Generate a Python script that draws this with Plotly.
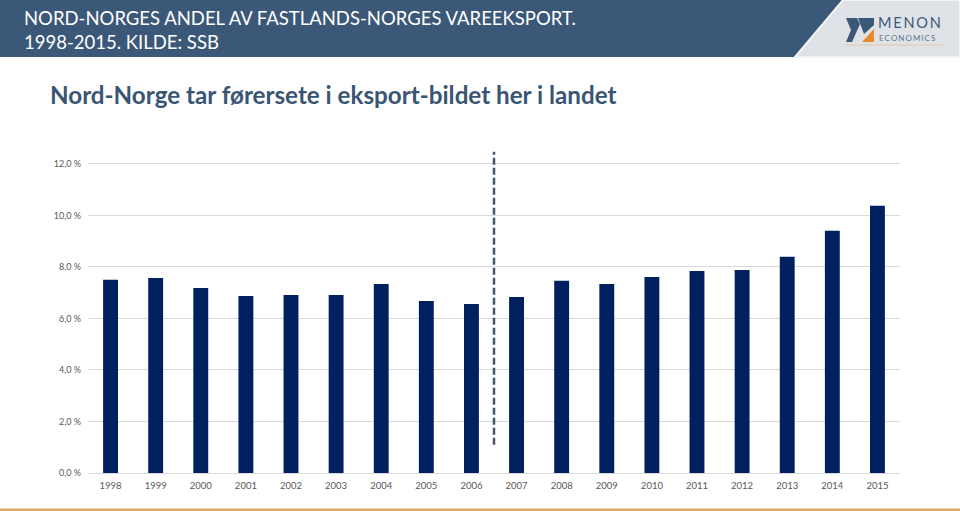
import plotly.graph_objects as go

years = ["1998", "1999", "2000", "2001", "2002", "2003", "2004", "2005", "2006",
         "2007", "2008", "2009", "2010", "2011", "2012", "2013", "2014", "2015"]
share_pct = [7.50, 7.57, 7.18, 6.87, 6.91, 6.91, 7.34, 6.68, 6.56,
             6.83, 7.46, 7.34, 7.61, 7.84, 7.88, 8.39, 9.40, 10.37]
tick_vals = [0, 2, 4, 6, 8, 10, 12]
tick_text = ["0,0 %", "2,0 %", "4,0 %", "6,0 %", "8,0 %", "10,0 %", "12,0 %"]

header_title = "NORD-NORGES ANDEL AV FASTLANDS-NORGES VAREEKSPORT.<br>1998-2015. KILDE: SSB"
subtitle = "Nord-Norge tar førersete i eksport-bildet her i landet"

W, H = 960, 511
L, R, T, B = 88, 60, 151, 38
PW, PH = W - L - R, H - T - B


def px(x):
    return (x - L) / PW


def py(y):
    return (H - B - y) / PH


fig = go.Figure()
fig.add_trace(go.Bar(x=years, y=share_pct, marker_color="#002060",
                     marker_line_width=0, width=0.33, hoverinfo="x+y"))

shapes = []
# header bar
shapes.append(dict(type="rect", xref="paper", yref="paper", x0=px(0), x1=px(W),
                   y0=py(57), y1=py(0), fillcolor="#3B5878", line_width=0, layer="below"))
# light gray logo area
shapes.append(dict(type="path", xref="paper", yref="paper",
                   path=f"M {px(843)} {py(0)} L {px(W)} {py(0)} L {px(W)} {py(57)} L {px(795)} {py(57)} Z",
                   fillcolor="#DFE2E6", line=dict(color="#F2F4F6", width=2), layer="below"))
# logo icon (approximation)
shapes.append(dict(type="path", xref="paper", yref="paper",
                   path=f"M {px(846)} {py(18)} L {px(857)} {py(18)} L {px(860)} {py(24)} L {px(852)} {py(42)} L {px(846)} {py(42)} L {px(851)} {py(30)} Z",
                   fillcolor="#3B5878", line_width=0))
shapes.append(dict(type="path", xref="paper", yref="paper",
                   path=f"M {px(858)} {py(18)} L {px(874)} {py(18)} L {px(874)} {py(25)} L {px(864)} {py(34)} Z",
                   fillcolor="#3B5878", line_width=0))
shapes.append(dict(type="path", xref="paper", yref="paper",
                   path=f"M {px(874)} {py(29)} L {px(874)} {py(42)} L {px(862)} {py(42)} Z",
                   fillcolor="#E8892B", line_width=0))
shapes.append(dict(type="line", xref="paper", yref="paper", x0=px(846), x1=px(943),
                   y0=py(45), y1=py(45), line=dict(color="#E2C9A4", width=1)))
# bottom accent line
shapes.append(dict(type="rect", xref="paper", yref="paper", x0=px(0), x1=px(W),
                   y0=py(511), y1=py(508.5), fillcolor="#D9A96A", line_width=0))
# dashed divider between 2006 and 2007
shapes.append(dict(type="line", xref="x", yref="y", x0=8.5, x1=8.5, y0=1.1, y1=12.47,
                   line=dict(color="#44546A", width=2.5, dash="7px,3px")))

annotations = [
    dict(text=header_title, xref="paper", yref="paper", x=px(22), y=py(5),
         xanchor="left", yanchor="top", align="left", showarrow=False,
         font=dict(family="Lato, Open Sans, sans-serif", size=18.5, color="white")),
    dict(text="M\u2009E\u2009N\u2009O\u2009N", xref="paper", yref="paper", x=px(877), y=py(23),
         xanchor="left", yanchor="middle", showarrow=False, borderpad=0,
         font=dict(family="Lato, sans-serif", size=14.5, color="#3B5878")),
    dict(text="E\u2009C\u2009O\u2009N\u2009O\u2009M\u2009I\u2009C\u2009S", xref="paper", yref="paper",
         x=px(878), y=py(38), xanchor="left", yanchor="middle", showarrow=False, borderpad=0,
         font=dict(family="Lato, sans-serif", size=8, color="#5E7590")),
    dict(text="<b>" + subtitle + "</b>", xref="paper", yref="paper", x=px(48), y=py(95),
         xanchor="left", yanchor="middle", showarrow=False,
         font=dict(family="Lato, sans-serif", size=24.2, color="#3A5573")),
]

fig.update_layout(
    width=W, height=H, margin=dict(l=L, r=R, t=T, b=B, pad=0),
    paper_bgcolor="white", plot_bgcolor="white", showlegend=False,
    shapes=shapes, annotations=annotations,
    font=dict(family="Lato, sans-serif", color="#595959"),
    xaxis=dict(type="category", showgrid=False, showline=False, ticks="",
               tickfont=dict(size=9.5, color="#595959"), range=[-0.5, 17.5],
               ticklabelstandoff=5),
    yaxis=dict(range=[0, 12.5], tickvals=tick_vals, ticktext=tick_text,
               showgrid=True, gridcolor="#D9D9D9", gridwidth=1, zeroline=True,
               zerolinecolor="#D9D9D9", zerolinewidth=1, showline=False,
               tickfont=dict(size=9, color="#595959"), ticks="", ticklabelstandoff=6),
)

fig.write_html("out.html", config={"displayModeBar": False},
               post_script="document.body.style.margin='0';document.body.style.overflow='hidden';")
